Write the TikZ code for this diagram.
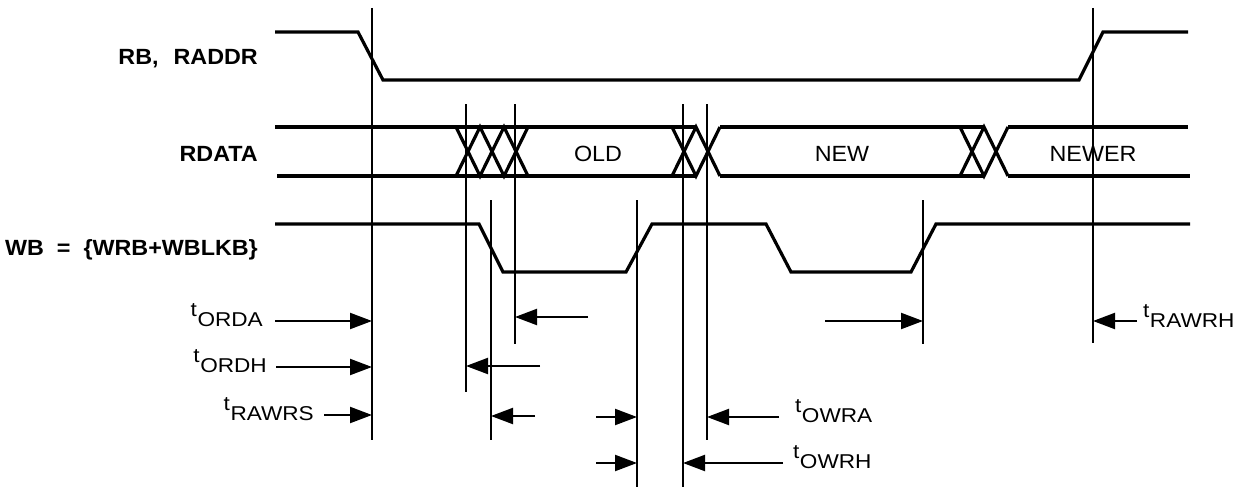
\documentclass[tikz,border=0pt]{standalone}
\usepackage{fontspec}
\setmainfont{Liberation Sans}
\newfontfamily\sigfont[FakeStretch=1.06]{Liberation Sans}
\newfontfamily\timfont[FakeStretch=1.13]{Liberation Sans}
\usetikzlibrary{arrows.meta}
\newcommand\tlab[1]{{\timfont\fontsize{20}{20}\selectfont\raisebox{10pt}{t}\hspace{0.5pt}#1}}
\tikzset{
  wave/.style={line width=3.2pt, line join=miter, line cap=butt},
  vline/.style={line width=2.2pt},
  tarrow/.style={line width=2.2pt, -{Triangle[length=22pt,width=16pt]}},
  signame/.style={anchor=base east, inner sep=0pt, font=\sigfont\bfseries\fontsize{22}{24}\selectfont},
  datalab/.style={anchor=base, inner sep=0pt, font=\sigfont\fontsize{22}{24}\selectfont},
  tname/.style={inner sep=0pt}
}
\begin{document}
\begin{tikzpicture}[x=1pt,y=-1pt]
\useasboundingbox (0,0) rectangle (1253,487);
% signal names
\node[signame] (rb) at (258,64) {RB,\hspace{15pt}RADDR};
\node[signame] (rdata) at (258,161) {RDATA};
\node[signame] (wb) at (258,255) {WB\hspace{13pt}=\hspace{13pt}\{WRB+WBLKB\}};
% RB, RADDR
\draw[wave] (275,32) -- (358,32) -- (383,80) -- (1079,80) -- (1103,32) -- (1188,32);
% RDATA
\draw[wave] (275,127) -- (696,127);
\draw[wave] (720,127) -- (984,127);
\draw[wave] (1008,127) -- (1188,127);
\draw[wave] (277,176) -- (696,176);
\draw[wave] (720,176) -- (984,176);
\draw[wave] (1008,176) -- (1190,176);
\draw[wave] (456,127) -- (480,176) -- (504,127) -- (528,176);
\draw[wave] (456,176) -- (480,127) -- (504,176) -- (528,127);
\draw[wave] (672,127) -- (696,176) -- (720,127);
\draw[wave] (672,176) -- (696,127) -- (720,176);
\draw[wave] (960,127) -- (984,176) -- (1008,127);
\draw[wave] (960,176) -- (984,127) -- (1008,176);
\node[datalab] (old) at (598,161) {OLD};
\node[datalab] (new) at (842,161) {NEW};
\node[datalab] (newer) at (1093,161) {NEWER};
% WB
\draw[wave] (275,224) -- (479,224) -- (503,272) -- (626,272) -- (652,224) -- (766,224) -- (791,272) -- (911,272) -- (936,224) -- (1190,224);
% vertical reference lines
\draw[vline] (372,8) -- (372,440);
\draw[vline] (466,104) -- (466,392);
\draw[vline] (491,200) -- (491,440);
\draw[vline] (515,104) -- (515,344);
\draw[vline] (637,200) -- (637,487);
\draw[vline] (683,104) -- (683,487);
\draw[vline] (707,104) -- (707,440);
\draw[vline] (923,200) -- (923,344);
\draw[vline] (1093,8) -- (1093,343);
% arrow end points
\coordinate (a1s) at (275,321); \coordinate (a1e) at (372,321);
\coordinate (a2s) at (276,367); \coordinate (a2e) at (372,367);
\coordinate (a3s) at (324,415); \coordinate (a3e) at (372,415);
\coordinate (a4s) at (588,317); \coordinate (a4e) at (515,317);
\coordinate (a5s) at (540,366); \coordinate (a5e) at (466,366);
\coordinate (a6s) at (535,416); \coordinate (a6e) at (491,416);
\coordinate (a7s) at (596,417); \coordinate (a7e) at (637,417);
\coordinate (a8s) at (596,463); \coordinate (a8e) at (637,463);
\coordinate (a9s) at (779,417); \coordinate (a9e) at (707,417);
\coordinate (a10s) at (783,463); \coordinate (a10e) at (683,463);
\coordinate (a11s) at (825,321); \coordinate (a11e) at (923,321);
\coordinate (a12s) at (1137,321); \coordinate (a12e) at (1093,321);
\foreach \i in {1,...,12} \draw[tarrow] (a\i s) -- (a\i e);
% timing labels
\node[tname, anchor=base east] (torda) at (263,326) {\tlab{ORDA}};
\node[tname, anchor=base east] (tordh) at (267,372) {\tlab{ORDH}};
\node[tname, anchor=base east] (trawrs) at (314,420) {\tlab{RAWRS}};
\node[tname, anchor=base west] (towra) at (795,422) {\tlab{OWRA}};
\node[tname, anchor=base west] (towrh) at (793,468) {\tlab{OWRH}};
\node[tname, anchor=base west] (trawrh) at (1143,327) {\tlab{RAWRH}};
\end{tikzpicture}
\end{document}
